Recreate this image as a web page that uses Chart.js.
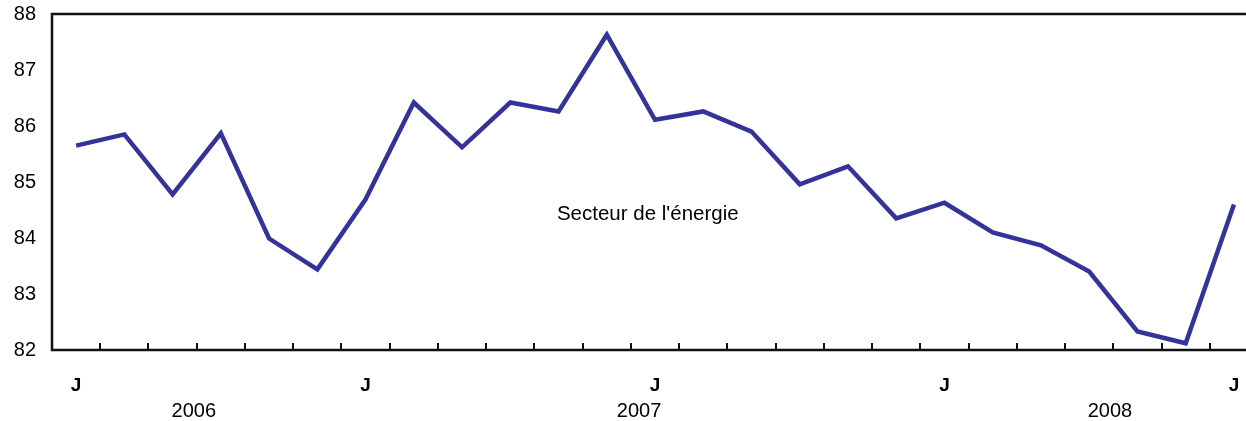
<!DOCTYPE html>
<html>
<head>
<meta charset="utf-8">
<script src="https://cdn.jsdelivr.net/npm/chart.js@4/dist/chart.umd.min.js"></script>
<style>
  html, body { margin: 0; padding: 0; background: #fff; }
  #wrap { width: 1246px; height: 421px; position: relative; }
</style>
</head>
<body>
<div id="wrap"><canvas id="chart"></canvas></div>
<script>
// monthly index, Jan 2006 .. Jan 2008
const months = ['J','F','M','A','M','J','J','A','S','O','N','D',
                'J','F','M','A','M','J','J','A','S','O','N','D','J'];
const energy = [85.65, 85.85, 84.78, 85.87, 83.99, 83.44, 84.69, 86.42, 85.62, 86.42,
                86.26, 87.63, 86.11, 86.26, 85.90, 84.96, 85.28, 84.35, 84.63, 84.10,
                83.87, 83.40, 82.33, 82.12, 84.60];
const yTicks = [82, 83, 84, 85, 86, 87, 88];
const years = ['2006', '2007', '2008'];
const seriesLabel = "Secteur de l'énergie";

const FONT = '"Liberation Sans", Arial, Helvetica, sans-serif';

// axis frame, inner tick marks, year labels and series label
const framePlugin = {
  id: 'frame',
  afterDraw(chart) {
    const { ctx, chartArea: a, scales: { x, y } } = chart;
    ctx.save();
    ctx.strokeStyle = '#111';
    ctx.lineWidth = 2.5;
    ctx.beginPath();
    ctx.moveTo(a.right, a.top);
    ctx.lineTo(a.left, a.top);
    ctx.lineTo(a.left, a.bottom);
    ctx.lineTo(a.right, a.bottom);
    ctx.stroke();

    ctx.lineWidth = 2;
    ctx.beginPath();
    for (let i = 0; i < months.length - 1; i++) {
      const px = Math.round(x.getPixelForValue(i + 0.5));
      ctx.moveTo(px, a.bottom);
      ctx.lineTo(px, a.bottom - 7);
    }
    ctx.stroke();

    ctx.fillStyle = '#000';
    ctx.font = '20px ' + FONT;
    ctx.textAlign = 'center';
    ctx.textBaseline = 'middle';
    const yearAt = [2.44, 11.67, 21.43];
    years.forEach((t, i) => ctx.fillText(t, x.getPixelForValue(yearAt[i]), 411));

    ctx.font = '20.5px ' + FONT;
    ctx.fillText(seriesLabel, x.getPixelForValue(11.85), y.getPixelForValue(84.43));
    ctx.restore();
  }
};

new Chart(document.getElementById('chart'), {
  type: 'line',
  data: {
    datasets: [{
      data: energy.map((v, i) => ({ x: i, y: v })),
      borderColor: '#333399',
      borderWidth: 4.5,
      borderJoinStyle: 'miter',
      tension: 0,
      pointRadius: 0,
      fill: false
    }]
  },
  options: {
    responsive: true,
    maintainAspectRatio: false,
    animation: false,
    layout: { padding: { top: 14, right: 0, left: 0, bottom: 0 } },
    plugins: { legend: { display: false }, tooltip: { enabled: false } },
    scales: {
      x: {
        type: 'linear',
        min: -0.5,
        max: 24.25,
        afterBuildTicks: s => { s.ticks = [0, 6, 12, 18, 24].map(v => ({ value: v })); },
        afterFit: s => { s.height = 71; s.paddingLeft = 0; s.paddingRight = 0; },
        grid: { display: false, drawTicks: false },
        border: { display: false },
        ticks: {
          autoSkip: false,
          maxRotation: 0,
          padding: 24,
          color: '#000',
          font: { family: FONT, size: 19, weight: 'bold' },
          callback: v => months[v]
        }
      },
      y: {
        min: 82,
        max: 88,
        afterBuildTicks: s => { s.ticks = yTicks.map(v => ({ value: v })); },
        afterFit: s => { s.width = 52; s.paddingTop = 0; s.paddingBottom = 0; },
        grid: { display: false, drawTicks: false },
        border: { display: false },
        ticks: {
          padding: 16,
          color: '#000',
          font: { family: FONT, size: 20 }
        }
      }
    }
  },
  plugins: [framePlugin]
});
</script>
</body>
</html>
